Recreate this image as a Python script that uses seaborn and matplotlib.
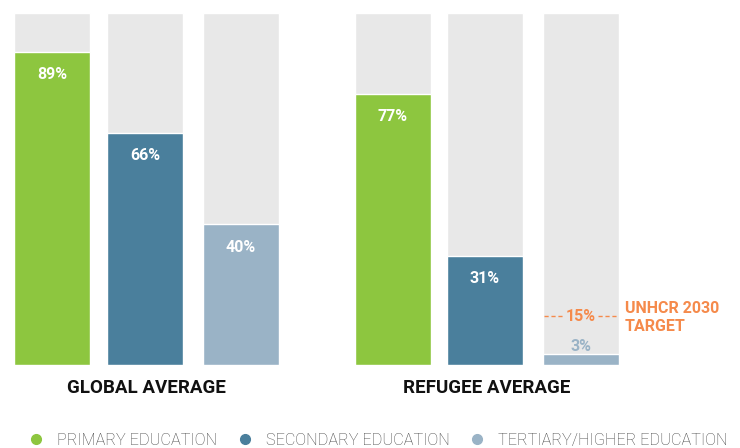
import matplotlib
matplotlib.use('Agg')
import matplotlib.pyplot as plt
from matplotlib.lines import Line2D
import numpy as np
import pandas as pd
import seaborn as sns

sns.set_style('white')
plt.rcParams['font.family'] = ['Roboto', 'DejaVu Sans']

# data
groups = ['GLOBAL AVERAGE', 'GLOBAL AVERAGE', 'GLOBAL AVERAGE',
          'REFUGEE AVERAGE', 'REFUGEE AVERAGE', 'REFUGEE AVERAGE']
levels = ['PRIMARY EDUCATION', 'SECONDARY EDUCATION', 'TERTIARY/HIGHER EDUCATION'] * 2
values = [89, 66, 40, 77, 31, 3]
target = 15
target_label = 'UNHCR 2030\nTARGET'

# layout (x in pixel units)
xpos = [52, 145, 241, 393, 485, 581]
colors = {'PRIMARY EDUCATION': '#8DC63F',
          'SECONDARY EDUCATION': '#4A7F9C',
          'TERTIARY/HIGHER EDUCATION': '#9AB3C6'}
bg = '#E8E8E8'
orange = '#F58A4B'

df = pd.DataFrame({'x': xpos, 'group': groups, 'level': levels,
                   'value': values, 'full': 100})

fig = plt.figure(figsize=(7.4, 4.48), dpi=100)
ax = fig.add_axes([0, (448 - 365) / 448, 1, 352 / 448])

w = 76 / 92
sns.barplot(data=df, x='x', y='full', native_scale=True, color=bg,
            width=w, saturation=1, ax=ax, errorbar=None)
sns.barplot(data=df, x='x', y='value', hue='level', native_scale=True,
            palette=colors, dodge=False, width=w, saturation=1, ax=ax,
            errorbar=None, legend=False)

ax.set_xlim(0, 740)
ax.set_ylim(0, 100)
ax.axis('off')

px = 100 / 352  # one pixel in y units
for x, v in zip(xpos, values):
    if v > 10:
        ax.text(x, v - 23 * px, f'{v}%', ha='center', va='center',
                color='white', fontsize=11.5, fontweight='bold')
    else:
        ax.text(x, v + 8 * px, f'{v}%', ha='center', va='center',
                color='#9AB3C6', fontsize=11.5, fontweight='bold')

# target line on the tertiary refugee bar
tx = xpos[5]
ty = target - 1.1
ax.plot([tx - 37, tx - 17], [ty, ty], ls=(0, (3, 2)), color=orange, lw=1)
ax.plot([tx + 17, tx + 37], [ty, ty], ls=(0, (3, 2)), color=orange, lw=1)
ax.text(tx, ty, f'{target}%', ha='center', va='center', color=orange,
        fontsize=11.5, fontweight='bold')
ax.text(625, ty - 0.3, target_label, ha='left', va='center', color=orange,
        fontsize=11.5, fontweight='bold', linespacing=1.25)

# group labels
for g in ['GLOBAL AVERAGE', 'REFUGEE AVERAGE']:
    gx = np.mean(df.loc[df['group'] == g, 'x'])
    fig.text(gx / 740, 1 - 388 / 448, g, ha='center', va='center',
             fontsize=13.5, fontweight='bold', color='#111111')

handles = [Line2D([], [], marker='o', ls='', markersize=7, color=c) for c in colors.values()]
leg = fig.legend(handles, list(colors.keys()), loc='center left',
                 bbox_to_anchor=(0.029, 1 - 440 / 448), ncol=3, frameon=False,
                 fontsize=11.7, handletextpad=0.8, columnspacing=1.2,
                 borderaxespad=0, handlelength=1)
for t in leg.get_texts():
    t.set_color('#444444')
    t.set_fontweight('light')

fig.savefig('out.png', dpi=100)
